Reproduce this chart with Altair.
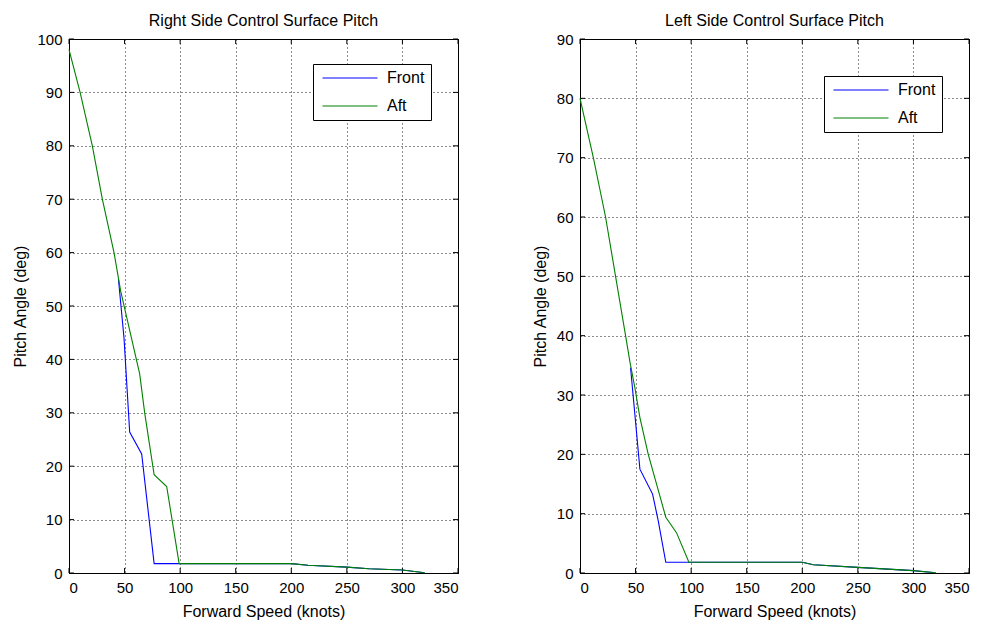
import altair as alt
import pandas as pd

# ---- data ----
series_names = ["Front", "Aft"]
series_colors = ["#0000ff", "#008000"]
x_ticks = [0, 50, 100, 150, 200, 250, 300, 350]
y_ticks_right = [0, 10, 20, 30, 40, 50, 60, 70, 80, 90, 100]
y_ticks_left = [0, 10, 20, 30, 40, 50, 60, 70, 80, 90]

# Right side control surface (left panel)
r_front_speed = [44.5, 49.5, 54.6, 65.4, 76.6, 100, 200, 215, 250, 270, 300, 320]
r_front_pitch = [55, 44, 26.4, 22.3, 1.75, 1.75, 1.75, 1.45, 1.1, 0.8, 0.55, 0.05]
r_aft_speed = [0, 10, 21, 30, 40.5, 46.5, 63.6, 68.1, 76.6, 87.9, 99.1, 200, 215, 250, 270, 300, 320]
r_aft_pitch = [98, 90, 80, 70, 60, 52.8, 37.3, 30, 18.4, 16.2, 1.75, 1.75, 1.45, 1.1, 0.8, 0.55, 0.05]

# Left side control surface (right panel)
l_front_speed = [45.5, 53.9, 65.3, 70.4, 77.2, 100, 200, 210, 250, 300, 320]
l_front_pitch = [34.6, 17.5, 13.3, 8.8, 1.8, 1.8, 1.8, 1.4, 0.95, 0.4, 0.05]
l_aft_speed = [0, 12, 23, 32, 41, 45, 49.4, 53.9, 61.4, 77.2, 86.8, 98, 200, 210, 250, 300, 320]
l_aft_pitch = [80, 70, 60, 50, 40, 35.5, 31.2, 26.2, 20, 9.4, 6.8, 1.8, 1.8, 1.4, 0.95, 0.4, 0.05]

FONT = "Liberation Sans"
W, H = 389, 534


def panel(title, fs, fp, as_, ap, ymax, yticks, leg_y):
    df = pd.DataFrame({
        "speed": fs + as_,
        "pitch": fp + ap,
        "series": [series_names[0]] * len(fs) + [series_names[1]] * len(as_),
    })
    xs = alt.Scale(domain=[0, 350], nice=False)
    ys = alt.Scale(domain=[0, ymax], nice=False)
    lines = alt.Chart(df).mark_line(strokeWidth=1.1).encode(
        x=alt.X("speed:Q", scale=xs,
                axis=alt.Axis(values=x_ticks, title="Forward Speed (knots)")),
        y=alt.Y("pitch:Q", scale=ys,
                axis=alt.Axis(values=yticks, title="Pitch Angle (deg)")),
        color=alt.Color("series:N",
                        scale=alt.Scale(domain=series_names, range=series_colors),
                        sort=series_names,
                        legend=alt.Legend(orient="none", legendX=244, legendY=leg_y,
                                          title=None, symbolType="M-5,0L5,0",
                                          symbolSize=121, symbolStrokeWidth=1.2,
                                          symbolOffset=23, labelOffset=29,
                                          rowPadding=12,
                                          strokeColor="black", fillColor="white",
                                          padding=6,
                                          labelFont=FONT, labelFontSize=16,
                                          labelColor="black")),
    )
    xt = pd.DataFrame({"speed": x_ticks})
    yt = pd.DataFrame({"pitch": yticks})
    tb = alt.Chart(xt).mark_rule(color="black").encode(
        x="speed:Q", y=alt.value(H), y2=alt.value(H - 5))
    tt = alt.Chart(xt).mark_rule(color="black").encode(
        x="speed:Q", y=alt.value(0), y2=alt.value(5))
    tl = alt.Chart(yt).mark_rule(color="black").encode(
        y="pitch:Q", x=alt.value(0), x2=alt.value(5))
    tr = alt.Chart(yt).mark_rule(color="black").encode(
        y="pitch:Q", x=alt.value(W), x2=alt.value(W - 5))
    return alt.layer(tb, tt, tl, tr, lines).properties(
        width=W, height=H,
        title=alt.TitleParams(title, font=FONT, fontSize=16, fontWeight="normal",
                              color="black", offset=3),
    )


left = panel("Right Side Control Surface Pitch", r_front_speed, r_front_pitch,
             r_aft_speed, r_aft_pitch, 100, y_ticks_right, 25)
right = panel("Left Side Control Surface Pitch", l_front_speed, l_front_pitch,
              l_aft_speed, l_aft_pitch, 90, y_ticks_left, 37)

chart = alt.hconcat(left, right, spacing=122, bounds="flush").resolve_scale(
    color="independent", x="independent", y="independent"
).resolve_legend(color="independent").properties(
    padding={"left": 4, "top": 4, "right": 5, "bottom": 0},
    background="white",
).configure_view(stroke="black", strokeWidth=1).configure_axis(
    grid=True, gridColor="black", gridDash=[1, 3], gridOpacity=0.9,
    ticks=False, labelPadding=7, domainColor="black",
    labelFont=FONT, labelFontSize=15, labelColor="black",
    titleFont=FONT, titleFontSize=16, titleFontWeight="normal", titleColor="black",
    titlePadding=8,
)

chart.save("out.html", embed_options={"renderer": "svg", "actions": False})
